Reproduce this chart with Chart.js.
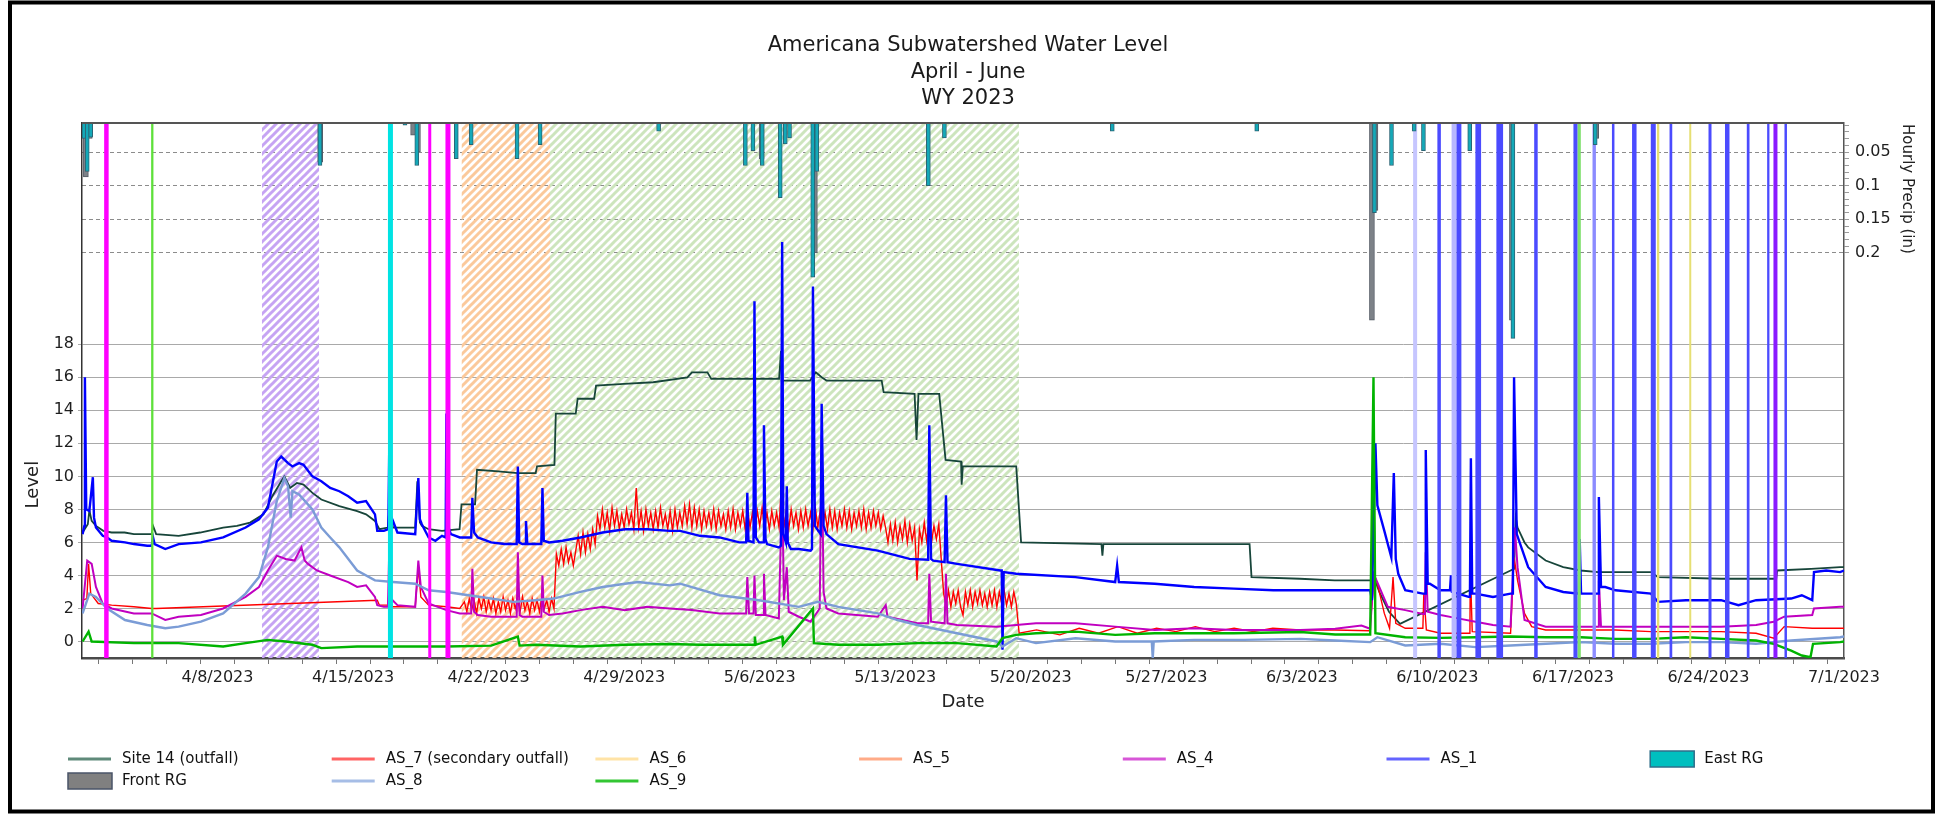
<!DOCTYPE html>
<html>
<head>
<meta charset="utf-8">
<title>Americana Subwatershed Water Level</title>
<script src="https://cdn.jsdelivr.net/npm/chart.js@4.4.0/dist/chart.umd.min.js"></script>
<style>
    html, body { margin: 0; padding: 0; background: #fff; }
</style>
</head>
<body>
<canvas id="chart" width="1946" height="814"></canvas>
<script>
// ==================== data (x = days since 4/1/2023 00:00) ====================
const TITLE_LINES = ['Americana Subwatershed Water Level', 'April - June', 'WY 2023']
const LEVEL_TITLE = 'Level'
const PRECIP_TITLE = 'Hourly Precip (in)'

const tickDays = [7, 14, 21, 28, 35, 42, 49, 56, 63, 70, 77, 84, 91]
const tickLabels = ['4/8/2023', '4/15/2023', '4/22/2023', '4/29/2023', '5/6/2023', '5/13/2023', '5/20/2023',
    '5/27/2023', '6/3/2023', '6/10/2023', '6/17/2023', '6/24/2023', '7/1/2023']
const levelTicks = [0, 2, 4, 6, 8, 10, 12, 14, 16, 18]
const precipTicks = [0.05, 0.1, 0.15, 0.2]
const precipLabels = ['0.05', '0.1', '0.15', '0.2']

const site14 = [
    [0.03, 6.6], [0.3, 7.1], [0.38, 7.95], [0.5, 7.3], [0.72, 7.0], [1.1, 6.7], [1.53, 6.6], [2.2, 6.6], [2.68, 6.5],
    [3.6, 6.5], [3.67, 7.0], [3.83, 6.5], [4.99, 6.4], [6.1, 6.6], [7.29, 6.9], [8.0, 7.0], [8.68, 7.2], [9.37, 7.7],
    [9.83, 8.8], [10.29, 9.7], [10.45, 10.0], [10.75, 9.3], [11.1, 9.6], [11.44, 9.5], [11.9, 9.0], [12.36, 8.6],
    [13.29, 8.2], [14.21, 7.9], [14.67, 7.7], [15.13, 7.3], [15.36, 6.8], [15.8, 6.9], [15.87, 8.0], [16.06, 6.9],
    [17.21, 6.9], [17.32, 9.7], [17.45, 7.2], [17.55, 7.0], [17.9, 6.8], [18.59, 6.7], [19.5, 6.8], [19.6, 8.3],
    [20.3, 8.3], [20.4, 10.4], [21.5, 10.3], [22.5, 10.2], [23.43, 10.2], [23.5, 10.6], [24.4, 10.7], [24.47, 13.8],
    [25.5, 13.8], [25.6, 14.7], [26.45, 14.7], [26.55, 15.5], [28.0, 15.6], [29.5, 15.7], [31.27, 16.0], [31.5, 16.3],
    [32.3, 16.3], [32.5, 15.9], [36.0, 15.9], [36.1, 17.6], [36.15, 15.4], [36.2, 15.8], [37.6, 15.8], [37.9, 16.3],
    [38.2, 16.0], [38.45, 15.8], [41.3, 15.8], [41.4, 15.1], [43.0, 15.0], [43.1, 12.2], [43.2, 15.0], [44.27, 15.0],
    [44.6, 11.0], [45.4, 10.9], [45.43, 9.5], [45.49, 10.6], [48.25, 10.6], [48.5, 6.0], [52.65, 5.9], [52.7, 5.2],
    [52.75, 5.9], [60.3, 5.9], [60.4, 3.9], [62.9, 3.8], [64.7, 3.7], [66.53, 3.7], [66.62, 3.6], [66.7, 10.4],
    [66.78, 3.7], [67.0, 3.0], [67.5, 1.8], [68.07, 1.07], [73.78, 4.3], [73.96, 4.4], [74.05, 7.5], [74.14, 6.9],
    [74.5, 6.0], [74.69, 5.7], [75.59, 4.9], [76.5, 4.5], [77.4, 4.3], [78.3, 4.2], [81.03, 4.2], [81.39, 3.9],
    [84.65, 3.8], [87.5, 3.8], [87.55, 4.3], [89.3, 4.4], [90.8, 4.5], [91, 4.5]
]

const as7 = [
    [0.03, 2.5], [0.25, 2.6], [0.34, 4.7], [0.45, 2.9], [0.84, 2.3], [1.53, 2.2], [2.68, 2.1], [3.6, 2.0], [3.83, 2.0],
    [15.25, 2.5], [15.36, 2.2], [15.8, 2.2], [15.87, 3.2], [16.0, 2.1], [17.21, 2.1], [17.37, 4.5], [17.5, 2.7],
    [17.9, 2.2], [18.82, 2.1], [19.51, 2.0],
    [19.75, 2.4], [19.875, 1.8], [20.0, 2.6], [20.125, 1.9], [20.25, 2.5], [20.375, 1.7], [20.5, 2.6], [20.625, 2.0],
    [20.75, 2.7], [20.875, 1.8], [21.0, 2.5], [21.125, 1.9], [21.25, 2.6], [21.375, 1.7], [21.5, 2.4], [21.625, 1.8],
    [21.75, 2.7], [21.875, 1.9], [22.0, 2.5], [22.125, 1.7], [22.25, 2.6], [22.375, 2.0], [22.5, 2.5], [22.625, 1.8],
    [22.75, 2.7], [22.875, 1.9], [23.0, 2.4], [23.125, 1.7], [23.25, 2.6], [23.375, 1.9], [23.5, 2.5], [23.625, 1.8],
    [23.75, 2.7], [23.875, 2.0], [24.0, 2.5], [24.125, 1.8], [24.25, 2.6], [24.375, 2.0],
    [24.5, 5.3], [24.625, 4.6], [24.75, 5.6], [24.875, 4.7], [25.0, 5.7], [25.125, 4.8], [25.25, 5.4], [25.375, 4.6],
    [25.5, 5.5], [25.625, 6.4], [25.75, 5.3], [25.875, 6.6], [26.0, 5.4], [26.125, 6.5], [26.25, 5.6], [26.375, 6.8],
    [26.5, 5.9],
    [26.625, 7.6], [26.75, 6.8], [26.875, 8.0], [27.0, 6.9], [27.125, 7.8], [27.25, 6.7], [27.375, 8.1], [27.5, 7.0],
    [27.625, 7.9], [27.75, 6.8], [27.875, 7.7], [28.0, 6.9], [28.125, 8.0], [28.25, 7.1], [28.375, 7.8], [28.5, 6.8],
    [28.625, 9.3], [28.75, 6.9], [28.875, 7.9], [29.0, 6.7], [29.125, 8.0], [29.25, 7.0], [29.375, 7.8], [29.5, 6.8],
    [29.625, 7.9], [29.75, 6.9], [29.875, 8.1], [30.0, 7.0], [30.125, 7.7], [30.25, 6.8], [30.375, 7.9], [30.5, 6.7],
    [30.625, 8.0], [30.75, 6.9], [30.875, 7.8], [31.0, 7.0], [31.125, 8.2], [31.25, 7.1], [31.375, 8.3], [31.5, 6.9],
    [31.625, 8.1], [31.75, 7.0], [31.875, 8.0], [32.0, 6.8], [32.125, 7.9], [32.25, 7.0], [32.375, 7.8], [32.5, 6.9],
    [32.625, 8.0], [32.75, 6.8], [32.875, 7.9], [33.0, 7.0], [33.125, 7.7], [33.25, 6.8], [33.375, 7.9], [33.5, 6.9],
    [33.625, 8.0], [33.75, 6.8], [33.875, 7.8], [34.0, 7.0], [34.125, 7.9], [34.25, 6.8], [34.375, 8.0], [34.5, 6.9],
    [34.625, 7.8], [34.75, 6.8], [34.875, 7.9], [35.0, 7.0], [35.125, 8.1], [35.25, 6.9], [35.375, 7.8], [35.5, 6.8],
    [35.625, 7.9], [35.75, 7.0], [35.875, 7.8], [36.0, 6.9], [36.125, 9.6], [36.25, 6.9], [36.375, 7.9], [36.5, 6.8],
    [36.625, 8.0], [36.75, 7.0], [36.875, 7.8], [37.0, 6.8], [37.125, 7.9], [37.25, 6.9], [37.375, 8.0], [37.5, 7.0],
    [37.625, 7.8], [37.75, 6.8], [37.875, 8.1], [38.0, 6.9], [38.125, 7.9], [38.25, 7.0], [38.375, 7.8], [38.5, 6.8],
    [38.625, 8.0], [38.75, 6.9], [38.875, 7.9], [39.0, 6.8], [39.125, 7.8], [39.25, 7.0], [39.375, 8.0], [39.5, 6.9],
    [39.625, 7.9], [39.75, 6.8], [39.875, 7.8], [40.0, 7.0], [40.125, 7.9], [40.25, 6.9], [40.375, 8.0], [40.5, 6.8],
    [40.625, 7.8], [40.75, 6.9], [40.875, 7.9], [41.0, 7.0], [41.125, 7.8], [41.25, 6.8], [41.375, 7.6],
    [41.5, 6.9], [41.625, 6.0], [41.75, 7.1], [41.875, 6.1], [42.0, 7.2], [42.125, 6.0], [42.25, 7.0], [42.375, 6.2],
    [42.5, 7.3], [42.625, 6.0], [42.75, 7.1], [42.875, 6.1], [43.0, 6.9], [43.125, 3.7], [43.25, 6.8], [43.375, 6.0],
    [43.5, 7.2], [43.625, 6.1], [43.75, 7.3], [43.875, 6.0], [44.0, 7.0], [44.125, 6.2], [44.25, 7.1],
    [44.5, 2.9], [44.625, 2.2], [44.75, 3.1], [44.875, 2.1], [45.0, 3.0], [45.125, 2.3], [45.25, 3.1], [45.375, 2.1],
    [45.5, 1.6], [45.625, 3.0], [45.75, 2.2], [45.875, 3.1], [46.0, 2.1], [46.125, 3.0], [46.25, 2.3], [46.375, 3.1],
    [46.5, 2.2], [46.625, 2.9], [46.75, 2.1], [46.875, 3.0], [47.0, 2.2], [47.125, 3.1], [47.25, 2.1], [47.375, 3.0],
    [47.5, 2.3], [47.625, 3.1], [47.75, 2.2], [47.875, 2.9], [48.0, 2.1], [48.125, 3.0], [48.25, 2.3],
    [48.4, 0.5], [49.3, 0.7], [50.5, 0.4], [51.5, 0.8], [52.5, 0.5], [53.5, 0.9], [54.5, 0.5], [55.5, 0.8],
    [56.5, 0.6], [57.5, 0.9], [58.5, 0.6], [59.5, 0.8], [60.5, 0.6], [61.5, 0.8], [62.9, 0.7], [64.7, 0.7],
    [66.5, 0.65], [66.75, 4.0], [66.9, 3.5], [67.26, 1.7], [67.53, 0.8], [67.71, 3.9], [67.85, 1.1], [68.34, 0.8],
    [69.25, 0.8], [69.3, 2.9], [69.43, 0.7], [70.16, 0.5], [71.68, 0.5], [71.7, 4.5], [71.8, 0.6], [73.78, 0.5],
    [73.96, 5.1], [74.14, 3.7], [74.5, 1.7], [74.87, 0.9], [75.59, 0.7], [77.4, 0.7], [79.2, 0.7], [81.03, 0.6],
    [82.84, 0.6], [84.65, 0.6], [86.46, 0.5], [87.37, 0.2], [87.91, 0.9], [89.36, 0.8], [90.8, 0.8], [91, 0.8]
]

const as6 = []
const as5 = []

const as4 = [
    [0.03, 2.0], [0.27, 4.9], [0.5, 4.7], [0.72, 3.3], [1.07, 2.3], [1.53, 2.0], [2.68, 1.7], [3.6, 1.7], [4.3, 1.3],
    [4.99, 1.5], [6.14, 1.6], [7.29, 2.0], [8.45, 2.7], [9.14, 3.3], [9.6, 4.3], [10.06, 5.2], [10.52, 5.0],
    [10.98, 4.9], [11.33, 5.7], [11.5, 4.9], [11.67, 4.7], [12.13, 4.3], [12.82, 4.0], [13.75, 3.6], [14.21, 3.3],
    [14.67, 3.4], [15.13, 2.7], [15.25, 2.2], [15.59, 2.1], [15.8, 2.1], [15.87, 5.7], [15.95, 2.6], [16.29, 2.2],
    [17.21, 2.1], [17.37, 4.9], [17.5, 3.3], [17.9, 2.3], [18.82, 1.9], [19.51, 1.7], [20.1, 1.7], [20.16, 4.4],
    [20.25, 1.8], [20.44, 1.6], [21.13, 1.5], [22.45, 1.5], [22.51, 5.4], [22.6, 1.6], [22.74, 1.5], [23.72, 1.5],
    [23.78, 4.0], [23.85, 1.8], [24.12, 1.6], [24.82, 1.7], [25.74, 1.9], [26.89, 2.1], [28.04, 1.9], [29.2, 2.1],
    [30.35, 2.0], [31.5, 1.9], [32.93, 1.7], [34.3, 1.7], [34.36, 3.9], [34.45, 1.7], [34.68, 1.7], [34.73, 4.0],
    [34.8, 1.6], [35.18, 1.6], [35.22, 4.1], [35.3, 1.6], [35.99, 1.4], [36.16, 9.6], [36.25, 2.5], [36.4, 4.5],
    [36.5, 1.8], [37.02, 1.5], [37.63, 1.2], [37.75, 1.4], [38.1, 2.0], [38.2, 12.5], [38.3, 3.0], [38.45, 2.0],
    [39.06, 1.7], [41.1, 1.5], [41.51, 2.2], [41.6, 1.5], [43.14, 1.1], [43.7, 1.1], [43.76, 4.1], [43.85, 1.2],
    [44.55, 1.1], [44.62, 4.1], [44.7, 1.1], [45.19, 1.0], [47.23, 0.9], [49.27, 1.1], [51.31, 1.1], [53.36, 0.9],
    [55.4, 0.7], [57.44, 0.8], [59.48, 0.7], [62.92, 0.7], [64.72, 0.77], [66.08, 0.97], [66.53, 0.77], [66.71, 4.1],
    [67.44, 2.1], [68.34, 1.9], [69.25, 1.67], [69.35, 1.67], [69.4, 5.4], [69.5, 1.8], [70.16, 1.6], [71.06, 1.4],
    [71.97, 1.2], [72.87, 1.0], [73.78, 0.9], [74.0, 6.9], [74.14, 4.5], [74.5, 1.3], [75.59, 0.9], [77.4, 0.9],
    [78.3, 0.9], [78.34, 3.7], [78.45, 0.9], [81.03, 0.9], [84.65, 0.9], [86.46, 1.0], [87.37, 1.2], [87.91, 1.5],
    [89.36, 1.6], [89.45, 2.0], [90.8, 2.1], [91, 2.1]
]

const as1 = [
    [0.03, 6.5], [0.12, 7.0], [0.15, 16.0], [0.22, 8.0], [0.38, 7.9], [0.56, 9.95], [0.62, 7.5], [0.72, 6.9],
    [1.07, 6.4], [1.3, 6.3], [1.53, 6.1], [2.22, 6.0], [2.68, 5.9], [3.37, 5.8], [3.6, 5.8], [3.67, 6.3], [3.75, 5.9],
    [4.3, 5.6], [4.99, 5.9], [6.14, 6.0], [7.29, 6.3], [8.45, 6.9], [9.14, 7.4], [9.6, 8.1], [10.06, 10.9],
    [10.29, 11.2], [10.64, 10.8], [10.87, 10.6], [11.21, 10.8], [11.44, 10.7], [11.9, 10.0], [12.36, 9.7],
    [12.82, 9.3], [13.29, 9.1], [13.75, 8.8], [14.21, 8.4], [14.67, 8.5], [15.13, 7.7], [15.25, 6.7], [15.59, 6.7],
    [15.82, 6.8], [15.87, 11.9], [15.95, 7.6], [16.06, 7.3], [16.29, 6.6], [17.21, 6.5], [17.37, 9.9], [17.45, 7.4],
    [17.55, 7.1], [17.9, 6.3], [18.25, 6.1], [18.59, 6.4], [18.78, 6.3], [18.82, 13.8], [18.9, 7.0], [19.05, 6.5],
    [19.51, 6.3], [20.1, 6.3], [20.16, 8.7], [20.25, 6.6], [20.44, 6.3], [21.13, 6.0], [21.82, 5.9], [22.45, 5.9],
    [22.51, 10.6], [22.58, 6.0], [22.74, 5.9], [22.9, 5.9], [22.93, 7.3], [23.0, 5.9], [23.43, 5.9], [23.72, 5.9],
    [23.78, 9.3], [23.85, 6.1], [24.12, 6.0], [24.82, 6.1], [25.74, 6.3], [26.89, 6.6], [28.04, 6.8], [29.2, 6.8],
    [30.35, 6.7], [30.89, 6.7], [31.91, 6.4], [32.93, 6.3], [33.95, 6.0], [34.3, 6.0], [34.36, 9.0], [34.42, 6.1],
    [34.68, 6.0], [34.73, 20.6], [34.8, 6.3], [34.97, 6.0], [35.18, 6.0], [35.22, 13.1], [35.3, 6.2], [35.38, 5.9],
    [35.99, 5.7], [36.1, 5.8], [36.16, 24.2], [36.22, 6.5], [36.35, 6.0], [36.4, 9.4], [36.45, 6.0], [36.61, 5.6],
    [37.02, 5.6], [37.63, 5.5], [37.7, 5.6], [37.75, 21.5], [37.85, 7.0], [38.15, 6.5], [38.2, 14.4], [38.3, 7.0],
    [38.45, 6.5], [39.06, 5.9], [41.1, 5.5], [42.74, 5.0], [43.7, 4.95], [43.76, 13.1], [43.85, 5.0], [43.96, 4.9],
    [44.55, 4.8], [44.62, 8.85], [44.7, 4.8], [45.19, 4.7], [47.43, 4.3], [47.5, 4.3], [47.54, -0.5], [47.6, 4.2],
    [48.25, 4.1], [51.31, 3.9], [53.36, 3.6], [53.46, 4.6], [53.55, 3.6], [55.4, 3.5], [57.44, 3.3], [59.48, 3.2],
    [61.53, 3.1], [62.92, 3.1], [64.72, 3.1], [66.53, 3.1], [66.62, 2.5], [66.8, 12.0], [66.9, 8.24], [67.26, 6.7],
    [67.62, 5.1], [67.75, 10.2], [67.85, 5.0], [67.98, 4.1], [68.34, 3.1], [69.25, 2.9], [69.37, 2.9], [69.4, 11.6],
    [69.5, 3.5], [69.61, 3.5], [70.16, 3.1], [70.65, 3.1], [70.7, 4.0], [70.75, 3.0], [71.61, 2.7], [71.68, 2.7],
    [71.73, 11.1], [71.8, 2.9], [71.97, 2.9], [72.87, 2.7], [73.78, 2.9], [73.9, 2.9], [73.96, 16.0], [74.1, 6.5],
    [74.69, 4.5], [75.59, 3.3], [76.5, 3.0], [77.3, 2.9], [77.35, 6.2], [77.42, 2.9], [78.3, 2.9], [78.34, 8.75],
    [78.45, 3.3], [78.67, 3.3], [79.2, 3.1], [81.03, 2.9], [81.39, 2.4], [82.84, 2.5], [84.65, 2.5], [85.55, 2.2],
    [86.46, 2.5], [88.27, 2.6], [88.82, 2.8], [89.36, 2.5], [89.45, 4.2], [90.08, 4.3], [90.8, 4.2], [91, 4.3]
]

const as8 = [
    [0.03, 1.7], [0.38, 2.9], [0.72, 2.7], [1.3, 2.0], [2.22, 1.3], [3.37, 1.0], [4.3, 0.8], [4.99, 0.9], [6.14, 1.2],
    [7.29, 1.7], [8.45, 2.9], [9.14, 3.9], [9.6, 5.7], [10.06, 8.5], [10.45, 9.9], [10.64, 9.4], [10.78, 7.5],
    [10.87, 9.1], [11.21, 8.9], [11.9, 8.0], [12.36, 6.9], [12.82, 6.3], [13.29, 5.7], [14.21, 4.3], [15.13, 3.7],
    [16.06, 3.6], [17.21, 3.5], [17.9, 3.1], [18.82, 3.0], [19.97, 2.8], [21.13, 2.6], [22.28, 2.4], [23.43, 2.5],
    [24.35, 2.6], [25.74, 3.0], [26.89, 3.3], [28.04, 3.5], [28.73, 3.6], [30.35, 3.4], [30.89, 3.5], [32.93, 2.8],
    [34.97, 2.5], [37.02, 2.1], [38.0, 2.4], [39.06, 2.1], [41.1, 1.7], [42.12, 1.3], [43.14, 1.0], [45.19, 0.5],
    [47.23, 0.0], [47.54, -0.3], [48.25, 0.2], [49.27, -0.1], [51.31, 0.2], [53.36, 0.0], [55.25, 0.0], [55.3, -1.0],
    [55.35, 0.0], [57.44, 0.1], [60.0, 0.1], [62.92, 0.16], [64.72, 0.06], [66.53, -0.04], [66.9, 0.26],
    [68.34, -0.24], [70.16, -0.14], [71.97, -0.34], [73.78, -0.24], [75.59, -0.14], [77.4, -0.04], [79.2, -0.14],
    [81.03, -0.14], [82.84, -0.04], [84.65, -0.04], [86.46, -0.14], [88.27, 0.06], [90.8, 0.26], [91, 0.3]
]

const as9 = [
    [0.03, 0.0], [0.34, 0.6], [0.5, 0.0], [2.68, -0.1], [4.99, -0.1], [7.29, -0.3], [8.45, -0.1], [9.6, 0.1],
    [10.52, 0.0], [11.9, -0.2], [12.36, -0.4], [14.21, -0.3], [16.52, -0.3], [18.82, -0.3], [21.13, -0.25],
    [22.51, 0.3], [22.6, -0.25], [23.43, -0.2], [25.74, -0.3], [28.04, -0.2], [30.35, -0.15], [31.91, -0.2],
    [34.73, -0.2], [34.75, 0.3], [34.8, -0.2], [36.16, 0.3], [36.2, -0.2], [37.75, 2.0], [37.8, -0.1], [39.06, -0.2],
    [41.1, -0.2], [43.14, -0.1], [45.19, -0.1], [47.23, -0.3], [47.54, 0.2], [48.25, 0.4], [49.27, 0.5], [51.31, 0.6],
    [53.36, 0.4], [55.4, 0.5], [57.44, 0.5], [59.48, 0.5], [62.92, 0.57], [64.72, 0.42], [66.53, 0.42], [66.7, 16.0],
    [66.8, 0.5], [68.34, 0.26], [70.16, 0.22], [71.97, 0.26], [73.78, 0.3], [75.59, 0.26], [77.4, 0.26], [79.2, 0.16],
    [81.03, 0.16], [82.84, 0.26], [84.65, 0.16], [86.46, 0.06], [87.37, -0.14], [88.27, -0.55], [88.82, -0.85],
    [89.27, -0.95], [89.4, -0.14], [90.8, -0.04], [91, 0.0]
]

// hourly precipitation (in), bars hang from the top
const eastRG = [
    [0.1, 0.03], [0.27, 0.079], [0.45, 0.028], [12.29, 0.07], [16.68, 0.01], [17.29, 0.07], [19.33, 0.06],
    [20.1, 0.039], [22.47, 0.06], [23.66, 0.039], [29.78, 0.019], [34.26, 0.07], [34.65, 0.048], [35.13, 0.07],
    [36.06, 0.118], [36.32, 0.038], [36.54, 0.029], [37.74, 0.236], [37.95, 0.079], [43.71, 0.1], [44.54, 0.029],
    [50.67, 0.006], [53.21, 0.019], [60.67, 0.019], [66.75, 0.14], [67.63, 0.07], [68.8, 0.019], [69.28, 0.048],
    [69.49, 0.006], [71.67, 0.048], [73.9, 0.327], [78.15, 0.039], [85.9, 0.004]
]
const frontRG = [
    [0.2, 0.087], [0.4, 0.03], [12.3, 0.065], [17.1, 0.025], [17.35, 0.05], [35.1, 0.06], [37.85, 0.2],
    [66.62, 0.3], [66.8, 0.137], [73.85, 0.3], [78.2, 0.03]
]

// field events: vertical markers and hatched periods
const markerDays = [1.26, 3.63, 15.93, 17.96, 18.9, 68.85, 70.09, 70.85, 71.11, 72.11, 73.22, 75.09, 77.13, 77.32,
    78.1, 79.08, 80.17, 81.15, 81.4, 82.06, 83.06, 84.08, 84.97, 86.05, 87.09, 87.46, 87.99]
const hatchStart = [9.29, 19.6, 24.17]
const hatchEnd = [12.25, 24.17, 48.39]

// ==================== styles ====================
const FONT = '"DejaVu Sans", Verdana, sans-serif'
const LEVEL_MIN = -1
const LEVEL_MAX = 31.4
const PRECIP_MIN = 0.0069
const PRECIP_MAX = 0.802

const BLUE = '#4b4bff'
const markerStyles = [
    ['#ff00ff', 4.5], ['#5ee03a', 2.3], ['#00e3e3', 5], ['#ff00ff', 3], ['#ff00ff', 5], ['#c6c6ff', 4],
    [BLUE, 3.5], ['#b8b8ff', 4.5], [BLUE, 5], [BLUE, 5.7], [BLUE, 6.7], [BLUE, 3.5], [BLUE, 4], ['#7fe06c', 3.4],
    ['#8c8cff', 3.4], [BLUE, 2.5], [BLUE, 4.5], [BLUE, 5], ['#e6df73', 2.3], [BLUE, 2.7], ['#e6df73', 2],
    [BLUE, 3], [BLUE, 4.5], [BLUE, 2.7], [BLUE, 2.3], ['#8a1aff', 4], [BLUE, 2.5]
]
const hatchColors = ['#c6a4f3', '#fbc99b', '#cde5bd']

const seriesStyles = {
    'Site 14 (outfall)': { color: '#17453a', legend: '#5f8a7a', width: 1.8 },
    'AS_7 (secondary outfall)': { color: '#ff0000', legend: '#ff6464', width: 1.4 },
    'AS_6': { color: '#ffd27f', legend: '#ffe3a6', width: 1.5 },
    'AS_5': { color: '#ff8c5a', legend: '#ffab88', width: 1.5 },
    'AS_4': { color: '#c000c0', legend: '#d756d7', width: 2 },
    'AS_1': { color: '#0000ff', legend: '#6464ff', width: 2.4 },
    'AS_8': { color: '#7b9cd6', legend: '#a6bde6', width: 2.4 },
    'AS_9': { color: '#00b400', legend: '#33c633', width: 2.4 }
}

const LEGEND_ORDER = ['Site 14 (outfall)', 'AS_7 (secondary outfall)', 'AS_6', 'AS_5', 'AS_4', 'AS_1',
    'East RG', 'Front RG', 'AS_8', 'AS_9']

// ==================== helpers ====================
const toPoints = (pairs) => pairs.map(([x, y]) => ({ x, y }))

const makeHatch = (color) => {
    const size = 8
    const tile = document.createElement('canvas')
    tile.width = size
    tile.height = size
    const g = tile.getContext('2d')
    g.strokeStyle = color
    g.lineWidth = 3
    g.beginPath()
    g.moveTo(0, size)
    g.lineTo(size, 0)
    g.moveTo(-size / 2, size / 2)
    g.lineTo(size / 2, -size / 2)
    g.moveTo(size / 2, size * 1.5)
    g.lineTo(size * 1.5, size / 2)
    g.stroke()
    return g.createPattern(tile, 'repeat')
}

// ==================== datasets ====================
const datasets = []

datasets.push({
    type: 'bar', label: 'East RG', data: toPoints(eastRG), yAxisID: 'yP',
    backgroundColor: '#14a9b8', borderColor: '#2b6474', borderWidth: 1,
    barThickness: 4, grouped: false, order: 0, legendColor: '#00bfbf', legendBorder: '#2f6f8a'
})
datasets.push({
    type: 'bar', label: 'Front RG', data: toPoints(frontRG), yAxisID: 'yP',
    backgroundColor: '#7d8288', borderColor: '#555c66', borderWidth: 1,
    barThickness: 5, grouped: false, order: 0.5, legendColor: '#808080', legendBorder: '#4a5468'
})

markerDays.forEach((day, i) => {
    datasets.push({
        type: 'line', label: 'marker' + i, yAxisID: 'y',
        data: [{ x: day, y: LEVEL_MIN }, { x: day, y: LEVEL_MAX }],
        borderColor: markerStyles[i][0], borderWidth: markerStyles[i][1], order: 1
    })
})

const seriesData = [
    ['Site 14 (outfall)', site14], ['AS_7 (secondary outfall)', as7], ['AS_6', as6], ['AS_5', as5],
    ['AS_4', as4], ['AS_1', as1], ['AS_8', as8], ['AS_9', as9]
]
seriesData.forEach(([label, pairs], i) => {
    const st = seriesStyles[label]
    datasets.push({
        type: 'line', label, data: toPoints(pairs), yAxisID: 'y',
        borderColor: st.color, borderWidth: st.width, legendColor: st.legend,
        order: 10 - i
    })
})

hatchStart.forEach((start, i) => {
    datasets.push({
        type: 'line', label: 'period' + i, yAxisID: 'y',
        data: [{ x: start, y: LEVEL_MAX }, { x: hatchEnd[i], y: LEVEL_MAX }],
        borderWidth: 0, fill: 'start', backgroundColor: makeHatch(hatchColors[i]), order: 20
    })
})

// ==================== decorations: titles, legend, frame ====================
const decorPlugin = {
    id: 'decor',
    afterDraw(chart) {
        const { ctx, chartArea, scales } = chart
        ctx.save()

        // plot frame top line
        ctx.strokeStyle = '#555'
        ctx.lineWidth = 2
        ctx.beginPath()
        ctx.moveTo(chartArea.left, chartArea.top)
        ctx.lineTo(chartArea.right, chartArea.top)
        ctx.stroke()

        // title
        ctx.fillStyle = '#1a1a1a'
        ctx.font = '21px ' + FONT
        ctx.textAlign = 'center'
        ctx.textBaseline = 'middle'
        TITLE_LINES.forEach((t, i) => ctx.fillText(t, 968, 46 + i * 26.5))

        // left axis title, centred on the level pane (-1 .. 20)
        const midY = (scales.y.getPixelForValue(LEVEL_MIN) + scales.y.getPixelForValue(20)) / 2
        ctx.save()
        ctx.translate(33, midY)
        ctx.rotate(-Math.PI / 2)
        ctx.font = '18px ' + FONT
        ctx.fillStyle = '#222'
        ctx.fillText(LEVEL_TITLE, 0, 0)
        ctx.restore()

        // right axis title, running down from the top of the precip pane
        ctx.save()
        ctx.translate(1907, chartArea.top + 1)
        ctx.rotate(Math.PI / 2)
        ctx.font = '15px ' + FONT
        ctx.fillStyle = '#222'
        ctx.textAlign = 'left'
        ctx.fillText(PRECIP_TITLE, 0, 0)
        ctx.restore()

        // legend
        ctx.font = '15px ' + FONT
        ctx.textAlign = 'left'
        LEGEND_ORDER.forEach((label, i) => {
            const ds = chart.data.datasets.find(d => d.label === label)
            const x = 68 + (i % 7) * 263.7
            const y = [759, 781][Math.floor(i / 7)]
            if (ds.type === 'bar') {
                ctx.fillStyle = ds.legendColor
                ctx.fillRect(x, y - 8, 44, 16)
                ctx.strokeStyle = ds.legendBorder
                ctx.lineWidth = 1.5
                ctx.strokeRect(x, y - 8, 44, 16)
            } else {
                ctx.strokeStyle = ds.legendColor
                ctx.lineWidth = 3
                ctx.beginPath()
                ctx.moveTo(x, y)
                ctx.lineTo(x + 43, y)
                ctx.stroke()
            }
            ctx.fillStyle = '#111'
            ctx.fillText(label, x + 54, y)
        })

        // outer frame
        ctx.strokeStyle = '#000'
        ctx.lineWidth = 4
        ctx.strokeRect(10, 2.5, 1923, 809)
        ctx.restore()
    }
}

// ==================== chart ====================
Chart.defaults.font.family = FONT

const minorDays = Array.from({ length: 53 }, (_, i) => i * 1.75)
const precipMinor = Array.from({ length: 20 }, (_, i) => (i + 1) / 100)
const isPrecipMajor = (v) => precipTicks.some(t => Math.abs(t - v) < 1e-6)

new Chart(document.getElementById('chart'), {
    type: 'line',
    data: { datasets },
    options: {
        responsive: false,
        animation: false,
        layout: { padding: { top: 123, left: 0, right: 0, bottom: 0 } },
        elements: {
            line: { tension: 0, fill: false },
            point: { radius: 0, hoverRadius: 0 }
        },
        plugins: {
            legend: { display: false },
            tooltip: { enabled: false },
            title: { display: false }
        },
        scales: {
            x: {
                type: 'linear',
                min: 0,
                max: 91,
                offset: false,
                afterBuildTicks: (axis) => { axis.ticks = minorDays.map(v => ({ value: v })) },
                afterFit: (axis) => { axis.height = 814 - 658 },
                ticks: {
                    autoSkip: false,
                    maxRotation: 0,
                    padding: 4,
                    color: '#1e1e1e',
                    font: { size: 16 },
                    callback: (v) => {
                        const i = tickDays.indexOf(v)
                        return i >= 0 ? tickLabels[i] : ''
                    }
                },
                grid: { drawOnChartArea: false, tickLength: 6, tickColor: '#777' },
                border: { color: '#4a4a4a', width: 2.5 },
                title: { display: true, text: 'Date', color: '#222', font: { size: 18 }, padding: { top: 0, bottom: 101 } }
            },
            y: {
                type: 'linear',
                position: 'left',
                min: LEVEL_MIN,
                max: LEVEL_MAX,
                afterBuildTicks: (axis) => { axis.ticks = levelTicks.map(v => ({ value: v })) },
                afterFit: (axis) => { axis.width = 82 },
                ticks: { padding: 4, color: '#1e1e1e', font: { size: 16 } },
                grid: { color: '#a9a9a9', lineWidth: 1, tickLength: 4, tickColor: '#a9a9a9' },
                border: { color: '#333', width: 1.5 }
            },
            yP: {
                type: 'linear',
                position: 'right',
                reverse: true,
                min: PRECIP_MIN,
                max: PRECIP_MAX,
                afterBuildTicks: (axis) => { axis.ticks = precipMinor.map(v => ({ value: v })) },
                afterFit: (axis) => { axis.width = 1946 - 1844 },
                ticks: {
                    autoSkip: false,
                    padding: 6,
                    color: '#1e1e1e',
                    font: { size: 16 },
                    callback: (v) => {
                        const i = precipTicks.findIndex(t => Math.abs(t - v) < 1e-6)
                        return i >= 0 ? precipLabels[i] : ''
                    }
                },
                grid: {
                    color: (ctx) => (ctx.tick && isPrecipMajor(ctx.tick.value)) ? '#8c8c8c' : 'rgba(0,0,0,0)',
                    tickColor: '#9a9a9a',
                    tickLength: 5
                },
                border: { color: '#555', width: 1.5, dash: [4, 3] }
            }
        }
    },
    plugins: [decorPlugin]
})
</script>
</body>
</html>
